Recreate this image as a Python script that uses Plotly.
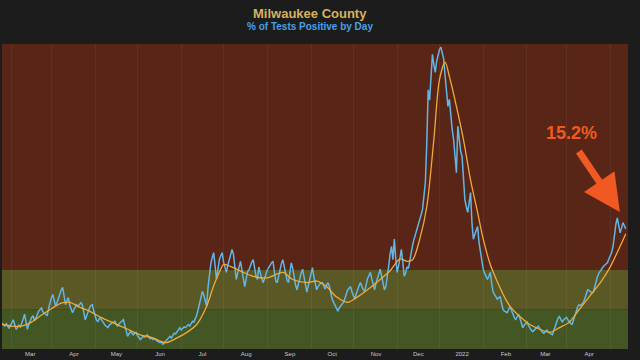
import pandas as pd
import plotly.graph_objects as go

# ---------------- data ----------------
start_date = "2021-02-09"

# daily % of tests positive (one value per day from start_date)
daily_pct = [
    3.3, 3.1, 2.9, 3.2, 2.8, 2.6, 3.0,
    3.4, 3.7, 3.1, 2.5, 2.7, 3.0, 2.8,
    3.2, 3.8, 4.4, 3.6, 2.5, 3.1, 3.7,
    4.0, 4.2, 3.6, 3.9, 4.4, 4.8, 5.0,
    5.2, 4.7, 4.5, 4.3, 4.2, 5.1, 6.0,
    6.5, 6.9, 6.1, 5.4, 5.9, 6.5, 7.1,
    7.5, 7.8, 6.6, 5.6, 6.1, 6.5, 5.5,
    4.9, 4.6, 5.0, 5.3, 5.6, 5.4, 5.7,
    5.9, 5.5, 4.6, 3.7, 4.2, 4.8, 5.2,
    5.5, 5.6, 4.8, 4.2, 3.6, 3.5, 3.9,
    3.8, 3.6, 3.3, 3.0, 2.8, 2.7, 3.0,
    3.2, 3.3, 3.4, 3.5, 3.1, 2.9, 3.2,
    3.4, 3.6, 3.7, 3.0, 2.3, 1.6, 1.9,
    2.2, 2.0, 1.8, 2.0, 2.1, 1.7, 1.5,
    1.2, 1.4, 1.6, 1.5, 1.7, 1.8, 1.5,
    1.3, 1.4, 1.2, 1.3, 1.1, 1.0, 0.9,
    0.8, 0.9, 0.6, 0.8, 1.0, 1.2, 1.4,
    1.6, 1.4, 1.7, 2.0, 1.9, 2.2, 2.5,
    2.7, 2.4, 2.6, 2.8, 2.7, 2.9, 3.1,
    2.9, 3.2, 3.5, 3.4, 3.8, 4.3, 5.0,
    5.9, 6.6, 7.3, 6.8, 6.1, 5.4, 7.8,
    9.5, 10.8, 11.6, 12.2, 10.5, 8.8, 10.0,
    11.3, 11.8, 12.2, 11.0, 10.2, 9.7, 10.6,
    11.4, 12.0, 12.6, 12.0, 10.3, 8.8, 9.6,
    10.4, 11.1, 10.0, 8.9, 7.9, 8.8, 9.8,
    10.0, 10.6, 11.0, 11.3, 10.1, 9.2, 8.8,
    10.4, 9.6, 9.0, 8.4, 8.9, 9.5, 10.0,
    10.3, 10.7, 10.9, 11.1, 9.8, 8.6, 8.4,
    9.3, 10.2, 10.8, 11.3, 10.4, 9.4, 8.7,
    8.4, 9.6, 10.9, 10.2, 9.0, 8.1, 7.5,
    8.3, 9.0, 9.6, 10.1, 9.2, 8.0, 7.2,
    8.0, 8.8, 9.7, 10.3, 9.1, 8.2, 7.5,
    7.9, 8.2, 8.4, 8.4, 8.0, 7.6, 8.1,
    8.4, 7.9, 7.0, 6.3, 5.9, 5.5, 5.1,
    4.8, 5.2, 5.5, 5.7, 5.9, 6.4, 7.0,
    7.5, 7.7, 7.9, 7.2, 6.6, 6.3, 7.0,
    7.6, 8.0, 8.4, 7.9, 7.5, 7.3, 8.2,
    8.9, 9.3, 9.7, 8.9, 8.0, 7.5, 8.3,
    9.0, 9.6, 10.1, 9.2, 8.3, 7.5, 7.9,
    9.0, 10.5, 12.0, 13.0, 11.3, 13.9, 11.5,
    9.7, 10.5, 11.6, 12.6, 11.0, 9.2, 9.6,
    10.4, 10.2, 11.2, 12.6, 13.2, 13.9, 14.5,
    15.0, 15.5, 16.2, 17.0, 17.7, 19.5, 21.1,
    26.0, 32.8, 31.5, 33.9, 37.3, 36.0, 35.0,
    36.4, 37.2, 37.9, 38.2, 37.6, 36.7, 34.5,
    32.8, 30.7, 31.6, 29.5, 27.8, 26.5, 24.0,
    22.3, 28.2, 26.5, 25.0, 24.4, 21.0, 18.9,
    18.0, 17.3, 18.5, 19.8, 16.0, 13.9, 14.5,
    15.0, 15.5, 13.5, 12.2, 11.0, 10.1, 9.6,
    9.2, 8.8, 9.2, 9.7, 8.3, 7.2, 6.9,
    6.6, 6.3, 6.5, 6.6, 5.8, 5.0, 4.8,
    4.7, 4.6, 5.0, 5.4, 4.9, 4.4, 4.0,
    3.7, 4.0, 4.4, 3.9, 3.2, 2.7, 3.0,
    3.2, 3.4, 3.0, 2.6, 2.4, 2.2, 2.4,
    2.6, 2.8, 2.9, 2.6, 2.3, 2.1, 2.0,
    2.2, 2.4, 2.2, 2.0, 1.9, 1.8, 2.3,
    2.9, 3.5, 3.9, 4.1, 3.7, 3.4, 3.7,
    3.9, 4.0, 3.7, 3.4, 3.2, 3.1, 3.6,
    4.2, 4.8, 5.4, 5.6, 5.5, 5.7, 5.9,
    6.4, 7.0, 7.5, 7.4, 7.2, 7.1, 7.2,
    7.9, 8.6, 9.2, 9.6, 9.9, 10.2, 10.4,
    10.6, 10.8, 10.9, 11.4, 11.8, 12.2, 13.0,
    14.5, 15.8, 16.6, 15.6, 14.7, 15.3, 16.0,
    15.6, 15.2,
]

# 7-day average read at these day offsets from start_date
avg_day = [0, 7, 14, 21, 28, 35, 42, 48, 55, 62, 70, 79, 89, 98, 107, 116,
           124, 131, 138, 145, 150, 155, 157, 164, 171, 178, 188, 199, 206,
           216, 223, 230, 237, 245, 252, 259, 268, 275, 282, 287, 291, 296,
           301, 306, 310, 314, 317, 322, 327, 332, 337, 341, 346, 351, 356,
           360, 367, 374, 381, 388, 395, 402, 409, 416, 424, 431, 438, 442]
avg_pct = [3.1, 2.9, 2.9, 3.4, 4.3, 5.1, 5.8, 5.9, 5.3, 4.8, 4.0, 3.3, 2.5,
           1.8, 1.4, 0.8, 1.4, 2.1, 3.1, 5.4, 8.0, 10.1, 10.7, 10.3, 9.7,
           9.2, 9.0, 9.7, 8.8, 8.4, 8.6, 7.9, 6.6, 5.9, 6.6, 7.5, 8.8, 9.9,
           11.4, 11.1, 11.3, 13.9, 18.0, 26.5, 34.1, 36.3, 34.5, 30.7, 26.5,
           21.4, 17.3, 13.9, 10.7, 8.5, 6.6, 5.4, 4.1, 3.1, 2.5, 2.1, 2.7,
           3.4, 5.0, 6.6, 8.4, 10.4, 13.0, 14.6]

# risk bands (% positive)
band_low = [0, 5, 10]
band_high = [5, 10, 38.6]
band_colors = ["#445624", "#5a5824", "#582516"]

tick_dates = ["2021-03-01", "2021-04-01", "2021-05-01", "2021-06-01",
              "2021-07-01", "2021-08-01", "2021-09-01", "2021-10-01",
              "2021-11-01", "2021-12-01", "2022-01-01", "2022-02-01",
              "2022-03-01", "2022-04-01"]
tick_labels = ["Mar", "Apr", "May", "Jun", "Jul", "Aug", "Sep", "Oct",
               "Nov", "Dec", "2022", "Feb", "Mar", "Apr"]
grid_dates = [d[:8] + "16" for d in tick_dates] + ["2021-02-16"]

latest_label = "15.2%"

# ---------------- figure ----------------
dates = pd.date_range(start_date, periods=len(daily_pct), freq="D")
avg_dates = pd.to_datetime(start_date) + pd.to_timedelta(avg_day, unit="D")

fig = go.Figure()

for lo, hi, col in zip(band_low, band_high, band_colors):
    fig.add_shape(type="rect", xref="paper", yref="y", x0=0, x1=1, y0=lo, y1=hi,
                  fillcolor=col, line_width=0, layer="below")

fig.add_trace(go.Scatter(x=dates, y=daily_pct, mode="lines",
                         line=dict(color="#62b6e6", width=1.5),
                         hoverinfo="skip", showlegend=False))
fig.add_trace(go.Scatter(x=avg_dates, y=avg_pct, mode="lines",
                         line=dict(color="#f0aa3a", width=1.3, shape="spline",
                                   smoothing=0.8),
                         hoverinfo="skip", showlegend=False))

font_main = "Liberation Sans, Arial, sans-serif"

fig.update_layout(
    width=640, height=360,
    margin=dict(l=2, r=12, t=44, b=11),
    paper_bgcolor="#1c1c1c", plot_bgcolor="#1c1c1c",
    xaxis=dict(range=["2021-02-09", "2022-04-28 14:00"],
               tickvals=tick_dates, ticktext=tick_labels,
               tickfont=dict(size=6, color="#c8c8c8", family=font_main),
               showgrid=False, zeroline=False, showline=False, ticks="",
               minor=dict(tickvals=grid_dates, showgrid=True,
                          gridcolor="rgba(255,255,255,0.05)", gridwidth=1)),
    yaxis=dict(range=[0, 38.6], showticklabels=False, showgrid=False,
               zeroline=False, showline=False),
    annotations=[
        dict(text="<b>Milwaukee County</b>", xref="paper", yref="paper",
             x=0.492, y=1, yshift=31, xanchor="center", yanchor="middle",
             showarrow=False, font=dict(size=13, color="#d6b25e", family=font_main)),
        dict(text="<b>% of Tests Positive by Day</b>", xref="paper", yref="paper",
             x=0.492, y=1, yshift=18, xanchor="center", yanchor="middle",
             showarrow=False, font=dict(size=10, color="#46a0e6", family=font_main)),
        dict(text="<b>" + latest_label + "</b>", xref="paper", yref="paper",
             x=0.909, y=0.709, xanchor="center", yanchor="middle",
             showarrow=False, font=dict(size=18, color="#f05a22", family=font_main)),
        dict(text="", xref="paper", yref="paper", x=0.987, y=0.449,
             ax=-42, ay=-62, showarrow=True, arrowhead=2, arrowsize=1.05,
             arrowwidth=7, arrowcolor="#f05a22", standoff=0),
    ],
)

fig.write_html("out.html",
               config={"displayModeBar": False, "staticPlot": True},
               post_script="document.body.style.margin='0';"
                           "document.body.style.background='#1c1c1c';")
